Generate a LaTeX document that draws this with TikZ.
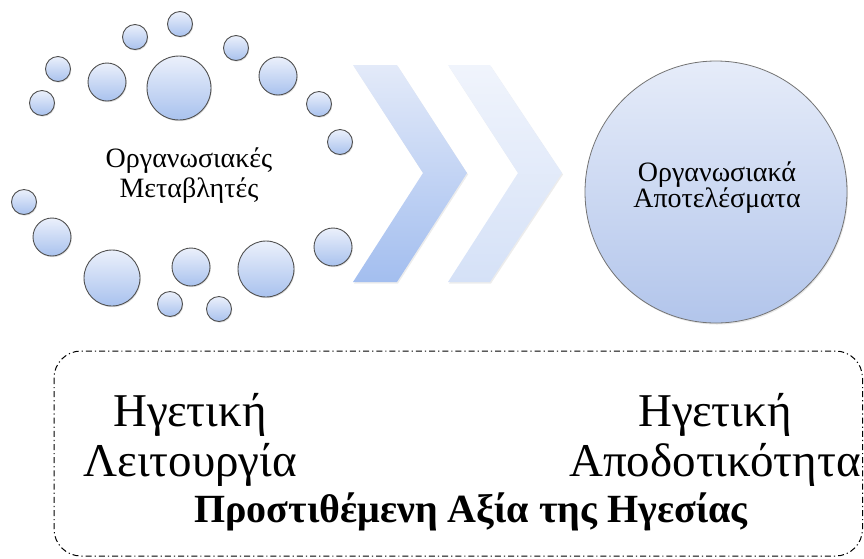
\documentclass[tikz,border=0pt]{standalone}
\usepackage{fontspec}
\setmainfont{Liberation Serif}
\usetikzlibrary{shadows}

\definecolor{bubtop}{HTML}{EBF0FB}
\definecolor{bubbot}{HTML}{A9C2EE}
\definecolor{bubline}{HTML}{505050}
\definecolor{bigtop}{HTML}{E6ECF9}
\definecolor{bigbot}{HTML}{B2C5EB}
\definecolor{chevAtop}{HTML}{E3EAF9}
\definecolor{chevAbot}{HTML}{A3BEEF}
\definecolor{chevBtop}{HTML}{F0F4FC}
\definecolor{chevBbot}{HTML}{D5E1F7}

\tikzset{
  bubble/.style={circle, draw=bubline, line width=0.9pt, inner sep=0pt,
    top color=bubtop, bottom color=bubbot,
    drop shadow={shadow xshift=0.8pt, shadow yshift=-1.2pt, opacity=0.25}},
  bigcircle/.style={circle, draw=black!55, line width=0.8pt, inner sep=0pt,
    minimum size=262pt, top color=bigtop, bottom color=bigbot,
    drop shadow={shadow xshift=1pt, shadow yshift=-1.5pt, opacity=0.2}},
  chevron/.style={draw=none,
    drop shadow={shadow xshift=1pt, shadow yshift=-1.5pt, opacity=0.15}},
  dashdotbox/.style={line width=1pt, rounded corners=27pt,
    dash pattern=on 6pt off 3pt on 1.2pt off 3pt},
  smalltext/.style={align=center, inner sep=0pt, font=\fontsize{28}{30}\selectfont},
  bigtext/.style={align=center, inner sep=0pt, font=\fontsize{47}{50}\selectfont},
}

\begin{document}
\begin{tikzpicture}[x=1pt, y=-1pt]
\useasboundingbox (0,0) rectangle (864,558);

% Variables: ring of bubbles
\foreach \name/\x/\y/\r in {b1/180/24/12.5, b2/135/37/12.5, b3/58/69/12.5,
    b4/42/103/12.5, b5/107/82/19, b6/179/88/32, b7/236/48/12.5,
    b8/278/76/19, b9/319/104/12.5, b10/340/142/12.5, b11/24/202/12.5,
    b12/52/237/19, b13/112/278/28, b14/191/267/19, b15/266/269/28,
    b16/333/247/19, b17/170/304/12.5, b18/219/309/12.5}
    \node[bubble, minimum size={2*\r pt}] (\name) at (\x,\y) {};

\node[smalltext] (vars) at (189,176) {Οργανωσιακές\\Μεταβλητές};

% Chevrons
\shade[chevron, top color=chevAtop, bottom color=chevAbot]
    (353,65) -- (397,65) -- (467,173) -- (397,282) -- (353,282) -- (423,173) -- cycle;
\shade[chevron, top color=chevBtop, bottom color=chevBbot]
    (448,65) -- (490,65) -- (562,173) -- (490,282) -- (448,282) -- (518,173) -- cycle;

% Outcomes
\node[bigcircle] (outcome) at (716,192) {};
\node[smalltext, font=\fontsize{28}{26}\selectfont] (outtext) at (717,188)
    {Οργανωσιακά\\Αποτελέσματα};

% Leadership value frame
\draw[dashdotbox] (54,351) rectangle (862.5,556);

\node[bigtext] (func) at (190,440) {Ηγετική\\Λειτουργία};
\node[bigtext] (effect) at (715,440) {Ηγετική\\Αποδοτικότητα};
\node[inner sep=0pt, anchor=base, font=\bfseries\fontsize{40}{42}\selectfont]
    (value) at (471,522) {Προστιθέμενη Αξία της Ηγεσίας};

\end{tikzpicture}
\end{document}
